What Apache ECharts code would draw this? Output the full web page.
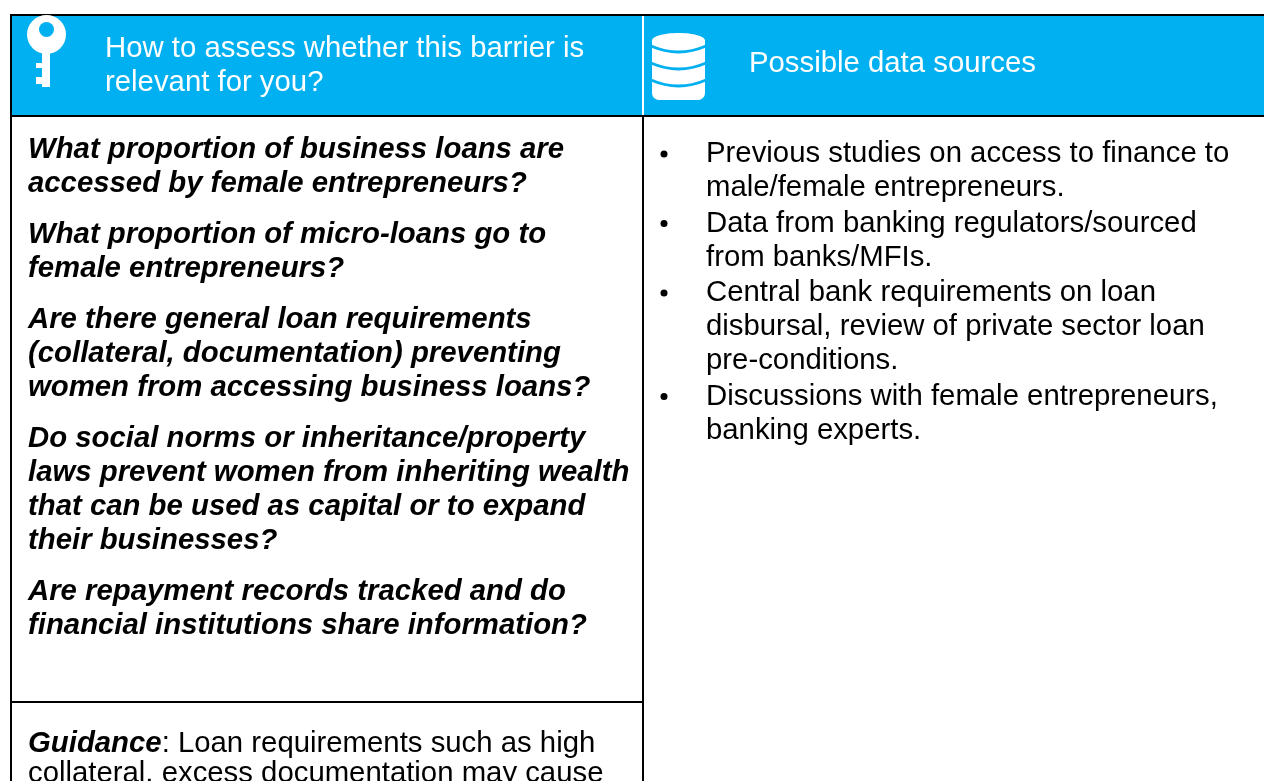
<!DOCTYPE html>
<html>
<head>
<meta charset="utf-8">
<style>
  html, body { margin: 0; padding: 0; background: #fff; }
  #chart { width: 1264px; height: 781px; }
</style>
<script src="https://cdn.jsdelivr.net/npm/echarts@6/dist/echarts.min.js"></script>
</head>
<body>
<div id="chart"></div>
<script>
const headerLeft = ['How to assess whether this barrier is', 'relevant for you?']
const headerRight = ['Possible data sources']
const questions = [
  ['What proportion of business loans are', 'accessed by female entrepreneurs?'],
  ['What proportion of micro-loans go to', 'female entrepreneurs?'],
  ['Are there general loan requirements', '(collateral, documentation) preventing', 'women from accessing business loans?'],
  ['Do social norms or inheritance/property', 'laws prevent women from inheriting wealth', 'that can be used as capital or to expand', 'their businesses?'],
  ['Are repayment records tracked and do', 'financial institutions share information?']
]
const sources = [
  ['Previous studies on access to finance to', 'male/female entrepreneurs.'],
  ['Data from banking regulators/sourced', 'from banks/MFIs.'],
  ['Central bank requirements on loan', 'disbursal, review of private sector loan', 'pre-conditions.'],
  ['Discussions with female entrepreneurs,', 'banking experts.']
]
const guidanceLead = 'Guidance'
const guidanceLines = [': Loan requirements such as high', 'collateral, excess documentation may cause']

const BLUE = '#00b0f0'
const FONT = '"Liberation Sans", Arial, sans-serif'
const LINE_H = 34
const SIZE = 29.33

function text(x, y, str, extra) {
  return {
    type: 'text', x, y,
    style: Object.assign({
      text: str, fontFamily: FONT, fontSize: SIZE, fill: '#000',
      verticalAlign: 'middle', align: 'left'
    }, extra)
  }
}
function rect(x, y, width, height, fill) {
  return { type: 'rect', shape: { x, y, width, height }, style: { fill } }
}

const els = []
// header band and cell borders
els.push(rect(10, 14, 1254, 103, BLUE))
els.push(rect(642, 16, 2, 99, '#fff'))
els.push(rect(10, 14, 1254, 2, '#000'))
els.push(rect(10, 115, 1254, 2, '#000'))
els.push(rect(10, 14, 2, 767, '#000'))
els.push(rect(642, 117, 2, 664, '#000'))
els.push(rect(12, 701, 630, 2, '#000'))

// key icon
els.push({ type: 'circle', shape: { cx: 46.5, cy: 34.5, r: 19.5 }, style: { fill: '#fff' } })
els.push({ type: 'circle', shape: { cx: 46.5, cy: 29.5, r: 7.5 }, style: { fill: BLUE } })
els.push(rect(42, 50, 8, 37, '#fff'))
els.push(rect(36, 63, 7, 5, '#fff'))
els.push(rect(36, 77, 7, 7, '#fff'))

// database icon
els.push({ type: 'rect', shape: { x: 652, y: 40, width: 53, height: 60, r: [0, 0, 7, 7] }, style: { fill: '#fff' } })
els.push({ type: 'ellipse', shape: { cx: 678.5, cy: 40.5, rx: 26.5, ry: 7.5 }, style: { fill: '#fff' } })
;[46, 63, 80].forEach(y => {
  els.push({
    type: 'bezierCurve',
    shape: { x1: 651, y1: y, x2: 706, y2: y, cpx1: 678.5, cpy1: y + 12 },
    style: { stroke: BLUE, lineWidth: 3, fill: 'none' }
  })
})

// header text
headerLeft.forEach((s, i) => els.push(text(105, 49 + i * 34, s, { fill: '#fff' })))
headerRight.forEach(s => els.push(text(749, 64, s, { fill: '#fff' })))

// left column questions
let y = 150
questions.forEach(block => {
  block.forEach(s => {
    els.push(text(28, y, s, { fontWeight: 'bold', fontStyle: 'italic' }))
    y += LINE_H
  })
  y += 17
})

// guidance cell
els.push(text(28, 744, '{b|' + guidanceLead + '}' + guidanceLines[0], {
  rich: { b: { fontFamily: FONT, fontSize: SIZE, fontWeight: 'bold', fontStyle: 'italic', fill: '#000' } }
}))
els.push(text(28, 774, guidanceLines[1]))

// right column bullets
let ry = 154
sources.forEach(block => {
  els.push({ type: 'circle', shape: { cx: 664, cy: ry, r: 3.5 }, style: { fill: '#000' } })
  block.forEach(s => {
    els.push(text(706, ry, s))
    ry += LINE_H
  })
  ry += 1.5
})

const chart = echarts.init(document.getElementById('chart'))
chart.setOption({ animation: false, graphic: { elements: els } })
</script>
</body>
</html>
